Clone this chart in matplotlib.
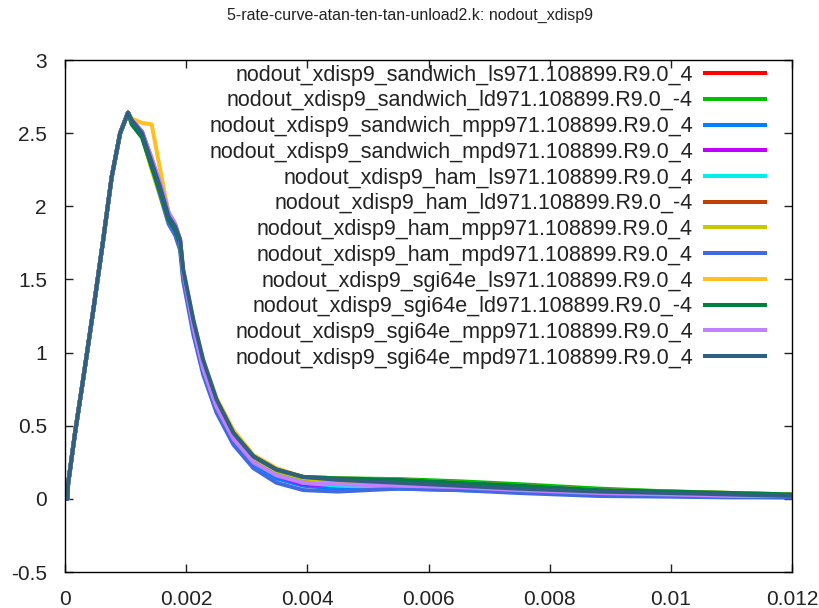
import numpy as np
import matplotlib.pyplot as plt

# time in ms (converted to s when plotted)
t_ms = [0, 0.04, 0.05, 0.165, 0.30, 0.47, 0.63, 0.77, 0.91, 1.04, 1.10, 1.27, 1.43, 1.57,
        1.71, 1.82, 1.90, 1.95, 2.12, 2.28, 2.50, 2.78, 3.11, 3.49, 3.93, 4.5, 5.5, 6.5,
        7.5, 8.8, 10.0, 11.0, 12.0]

# common loading ramp (first 10 samples), then each run's unloading branch
ramp = [0, 0, 0.10, 0.45, 0.82, 1.30, 1.77, 2.20, 2.50, 2.64]

sandwich_ls = ramp + [2.58, 2.49, 2.27, 2.10, 1.90, 1.83, 1.73, 1.53, 1.19, 0.92, 0.66, 0.44,
                      0.28, 0.19, 0.14, 0.13, 0.11, 0.09, 0.07, 0.05, 0.04, 0.03, 0.02]
sandwich_ld = ramp + [2.58, 2.49, 2.28, 2.10, 1.91, 1.84, 1.74, 1.54, 1.20, 0.93, 0.67, 0.45,
                      0.29, 0.20, 0.15, 0.14, 0.135, 0.12, 0.10, 0.07, 0.05, 0.04, 0.03]
sandwich_mpp = ramp + [2.59, 2.51, 2.32, 2.15, 1.94, 1.86, 1.76, 1.54, 1.16, 0.88, 0.62, 0.40,
                       0.24, 0.14, 0.09, 0.07, 0.07, 0.06, 0.05, 0.03, 0.02, 0.015, 0.01]
sandwich_mpd = ramp + [2.59, 2.51, 2.32, 2.15, 1.95, 1.87, 1.77, 1.55, 1.18, 0.90, 0.64, 0.42,
                       0.26, 0.16, 0.10, 0.09, 0.09, 0.08, 0.06, 0.04, 0.03, 0.02, 0.015]
ham_ls = ramp + [2.58, 2.49, 2.27, 2.10, 1.90, 1.83, 1.73, 1.53, 1.19, 0.92, 0.66, 0.44,
                 0.28, 0.18, 0.11, 0.09, 0.08, 0.07, 0.06, 0.04, 0.03, 0.02, 0.015]
ham_ld = ramp + [2.58, 2.49, 2.27, 2.10, 1.90, 1.83, 1.73, 1.53, 1.19, 0.92, 0.66, 0.44,
                 0.28, 0.19, 0.14, 0.13, 0.11, 0.09, 0.07, 0.05, 0.04, 0.03, 0.02]
ham_mpp = ramp + [2.57, 2.48, 2.25, 2.07, 1.88, 1.81, 1.71, 1.51, 1.18, 0.91, 0.66, 0.44,
                  0.28, 0.19, 0.14, 0.12, 0.11, 0.09, 0.07, 0.05, 0.04, 0.03, 0.02]
ham_mpd = ramp + [2.58, 2.50, 2.28, 2.08, 1.88, 1.80, 1.70, 1.49, 1.12, 0.85, 0.59, 0.37,
                  0.21, 0.11, 0.06, 0.05, 0.07, 0.06, 0.04, 0.02, 0.015, 0.01, 0.01]
sgi64e_ls = ramp + [2.60, 2.57, 2.56, 2.25, 1.95, 1.86, 1.76, 1.56, 1.22, 0.95, 0.69, 0.47,
                    0.30, 0.21, 0.15, 0.14, 0.13, 0.11, 0.09, 0.06, 0.05, 0.04, 0.03]
sgi64e_ld = ramp + [2.56, 2.47, 2.27, 2.10, 1.91, 1.84, 1.74, 1.54, 1.20, 0.93, 0.67, 0.45,
                    0.29, 0.20, 0.15, 0.14, 0.13, 0.11, 0.09, 0.06, 0.05, 0.04, 0.03]
sgi64e_mpp = ramp + [2.59, 2.51, 2.33, 2.16, 1.96, 1.88, 1.77, 1.55, 1.17, 0.89, 0.63, 0.41,
                     0.25, 0.16, 0.11, 0.10, 0.09, 0.08, 0.06, 0.04, 0.03, 0.02, 0.02]
sgi64e_mpd = ramp + [2.59, 2.50, 2.30, 2.13, 1.93, 1.86, 1.77, 1.57, 1.22, 0.95, 0.68, 0.45,
                     0.29, 0.20, 0.15, 0.13, 0.11, 0.09, 0.07, 0.05, 0.04, 0.03, 0.02]

series = [sandwich_ls, sandwich_ld, sandwich_mpp, sandwich_mpd, ham_ls, ham_ld, ham_mpp,
          ham_mpd, sgi64e_ls, sgi64e_ld, sgi64e_mpp, sgi64e_mpd]
labels = ["nodout_xdisp9_sandwich_ls971.108899.R9.0_4",
          "nodout_xdisp9_sandwich_ld971.108899.R9.0_-4",
          "nodout_xdisp9_sandwich_mpp971.108899.R9.0_4",
          "nodout_xdisp9_sandwich_mpd971.108899.R9.0_4",
          "nodout_xdisp9_ham_ls971.108899.R9.0_4",
          "nodout_xdisp9_ham_ld971.108899.R9.0_-4",
          "nodout_xdisp9_ham_mpp971.108899.R9.0_4",
          "nodout_xdisp9_ham_mpd971.108899.R9.0_4",
          "nodout_xdisp9_sgi64e_ls971.108899.R9.0_4",
          "nodout_xdisp9_sgi64e_ld971.108899.R9.0_-4",
          "nodout_xdisp9_sgi64e_mpp971.108899.R9.0_4",
          "nodout_xdisp9_sgi64e_mpd971.108899.R9.0_4"]
colors = ["#ff0000", "#00c000", "#0080ff", "#c000ff", "#00eeee", "#c04000",
          "#c8c800", "#4169e1", "#ffc020", "#008040", "#c080ff", "#306080"]

xticks = [0, 0.002, 0.004, 0.006, 0.008, 0.01, 0.012]
xtick_labels = ["0", "0.002", "0.004", "0.006", "0.008", "0.01", "0.012"]
yticks = [-0.5, 0, 0.5, 1, 1.5, 2, 2.5, 3]
ytick_labels = ["-0.5", "0", "0.5", "1", "1.5", "2", "2.5", "3"]

plt.rcParams["font.family"] = ["Liberation Sans", "DejaVu Sans"]

fig = plt.figure(figsize=(8.2, 6.08), dpi=100)
ax = fig.add_axes([0.0793, 0.0592, 0.8866, 0.8421])

t = np.array(t_ms) / 1000.0
for y, lab, c in zip(series, labels, colors):
    ax.plot(t, y, color=c, lw=2.9, label=lab)

ax.set_xlim(0, 0.012)
ax.set_ylim(-0.5, 3)
ax.set_xticks(xticks)
ax.set_xticklabels(xtick_labels)
ax.set_yticks(yticks)
ax.set_yticklabels(ytick_labels)
ax.tick_params(direction="in", length=6, width=1, top=True, right=True,
               labelsize=15, colors="#222222")
ax.tick_params(axis="x", pad=13)
ax.tick_params(axis="y", pad=13)
for s in ax.spines.values():
    s.set_linewidth(1)

fig.text(0.5, 1 - 15 / 608, "5-rate-curve-atan-ten-tan-unload2.k: nodout_xdisp9",
         ha="center", va="center", fontsize=11.5, color="#222222")

leg = ax.legend(loc="upper right", frameon=False, markerfirst=False, fontsize=15.5,
                handlelength=2.8, handletextpad=0.55, labelspacing=0.22,
                borderpad=0, borderaxespad=0, bbox_to_anchor=(0.963, 0.991))
for tx in leg.get_texts():
    tx.set_color("#222222")

plt.savefig("out.png", dpi=100)
